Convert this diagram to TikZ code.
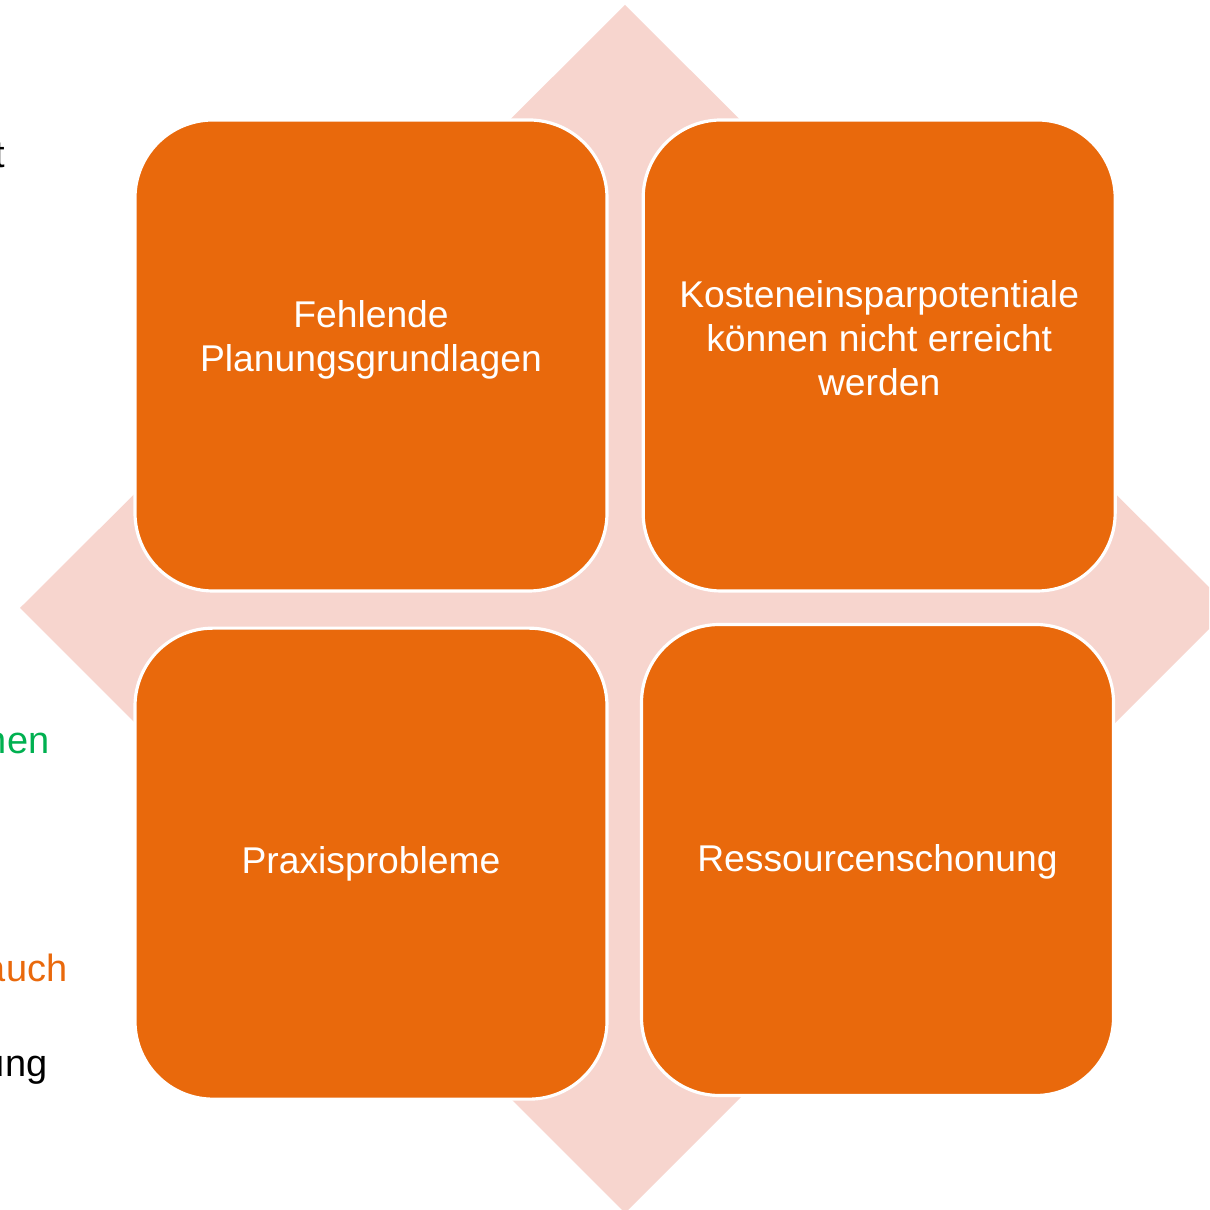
\documentclass[tikz,border=0pt]{standalone}
\usepackage{fontspec}
\setmainfont{Liberation Sans}
\usepackage{tikz}
\usetikzlibrary{positioning}
\definecolor{kachelorange}{RGB}{233,105,12}
\definecolor{rautenrosa}{RGB}{247,213,206}
\definecolor{textgruen}{RGB}{0,176,80}
\tikzset{kachel/.style={draw=white, line width=0.9pt, fill=kachelorange, rounded corners=0.78cm, minimum width=4.72cm, minimum height=4.71cm}}
\tikzset{ktext/.style={text=white, align=center, font=\fontsize{10.6}{12.5}\selectfont}}
\tikzset{rest/.style={anchor=base east, inner sep=0pt, font=\fontsize{10.8}{13}\selectfont}}

\begin{document}
\begin{tikzpicture}[
                scale = 1,
                every node/.style={inner sep=0pt}
            ]
                \useasboundingbox (0,0) rectangle (12.09,12.10);
                \clip (0,0) rectangle (12.09,12.10);
                % Raute im Hintergrund
                \fill[rautenrosa] (0.20,6.02) -- (6.25,12.05) -- (12.30,6.02) -- (6.25,-0.03) -- cycle;

                % Textreste am linken Rand
                \node[rest] (r1) at (0.06,10.42) {t};
                \node[rest, text=textgruen] (r2) at (0.50,4.56) {nen};
                \node[rest, text=kachelorange] (r3) at (0.68,2.28) {auch};
                \node[rest] (r4) at (0.48,1.33) {ung};

                % Kacheln
                \node[kachel] (fehl) at (3.71,8.545) {};
                \node[kachel, right=0.33cm of fehl] (kost) {};
                \node[kachel, below=0.34cm of fehl] (prax) {};
                \node[kachel] (ress) at (8.775,3.50) {};

                \node[ktext] (fehlT) at ([yshift=0.16cm]fehl.center) {Fehlende\\Planungsgrundlagen};
                \node[ktext] (kostT) at ([yshift=0.17cm]kost.center) {Kosteneinsparpotentiale\\können nicht erreicht\\werden};
                \node[ktext] (praxT) at (prax.center) {Praxisprobleme};
                \node[ktext] (ressT) at ([yshift=-0.02cm]ress.center) {Ressourcenschonung};
            \end{tikzpicture}
\end{document}
